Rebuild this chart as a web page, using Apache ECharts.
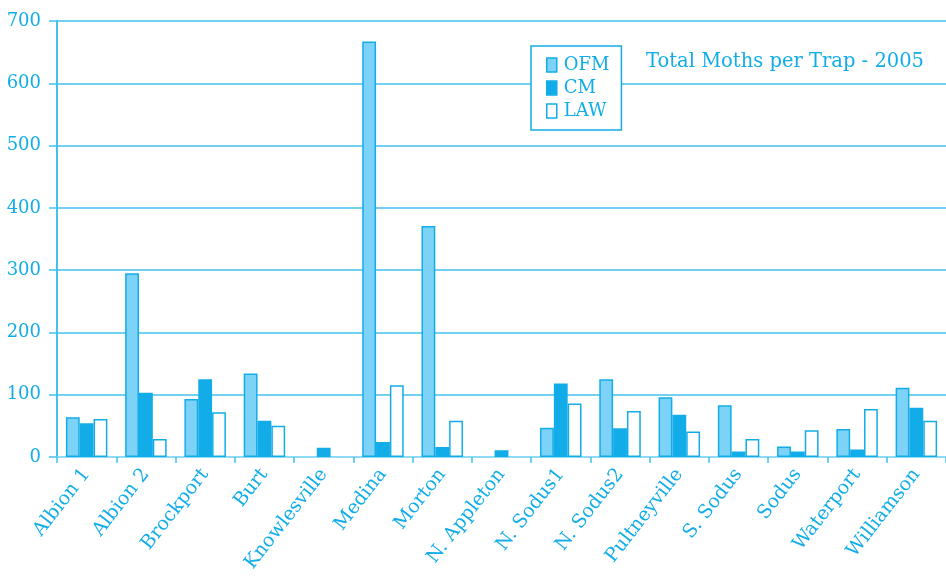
<!DOCTYPE html>
<html>
<head>
<meta charset="utf-8">
<script src="https://cdn.jsdelivr.net/npm/echarts@6/dist/echarts.min.js"></script>
<style>
  html, body { margin: 0; padding: 0; background: #ffffff; }
  #chart { width: 946px; height: 579px; }
</style>
</head>
<body>
<div id="chart"></div>
<script>
// Trap sites along the x axis
const sites = ['Albion 1', 'Albion 2', 'Brockport', 'Burt', 'Knowlesville', 'Medina', 'Morton',
  'N. Appleton', 'N. Sodus1', 'N. Sodus2', 'Pultneyville', 'S. Sodus', 'Sodus', 'Waterport', 'Williamson'];

// Total moths caught per trap, by species
const ofm = [64, 295, 93, 134, 0, 667, 371, 0, 47, 125, 96, 83, 17, 45, 111];
const cm  = [54, 103, 125, 58, 15, 24, 16, 11, 118, 46, 68, 9, 9, 12, 79];
const law = [61, 29, 72, 50, 0, 115, 58, 0, 86, 74, 41, 29, 43, 77, 58];

const yTicks = [0, 100, 200, 300, 400, 500, 600, 700];

const INK = '#12ade9';
const LINE = '#43c2ef';
const LIGHT = '#7dd3f7';
const FONT = 'DejaVu Serif';

// an empty trap gets no bar at all (no outline along the axis)
const bars = arr => arr.map(v => (v === 0 ? '-' : v));

const chart = echarts.init(document.getElementById('chart'), null, { renderer: 'canvas' });

const barBase = { type: 'bar', barGap: '0%', barCategoryGap: '30%' };

chart.setOption({
  animation: false,
  backgroundColor: '#ffffff',
  title: {
    text: 'Total Moths per Trap - 2005',
    left: 641, top: 47,
    textStyle: { fontFamily: FONT, fontSize: 19.5, fontWeight: 'normal', color: INK }
  },
  legend: {
    orient: 'vertical',
    left: 531, top: 46,
    padding: [10, 12, 10, 15],
    itemWidth: 10, itemHeight: 14, itemGap: 5,
    backgroundColor: '#ffffff',
    borderColor: INK, borderWidth: 1.5,
    textStyle: { fontFamily: FONT, fontSize: 18, color: INK, padding: [0, 0, 0, 2] },
    data: [
      { name: 'OFM', icon: 'rect', itemStyle: { color: LIGHT, borderColor: INK, borderWidth: 1.5 } },
      { name: 'CM', icon: 'rect', itemStyle: { color: INK, borderColor: INK, borderWidth: 1.5 } },
      { name: 'LAW', icon: 'rect', itemStyle: { color: '#ffffff', borderColor: INK, borderWidth: 1.5 } }
    ]
  },
  grid: { left: 57, top: 21, width: 896, height: 436, containLabel: false },
  xAxis: {
    type: 'category',
    data: sites,
    axisLine: { lineStyle: { color: '#8fdaf6', width: 2 } },
    axisTick: { show: true, alignWithLabel: false, length: 6, lineStyle: { color: LINE, width: 1.5 } },
    axisLabel: {
      interval: 0, rotate: 52, margin: 14,
      fontFamily: FONT, fontSize: 19, color: INK
    },
    splitLine: { show: false }
  },
  yAxis: {
    type: 'value',
    min: yTicks[0], max: yTicks[yTicks.length - 1], interval: 100,
    axisLine: { show: true, lineStyle: { color: LINE, width: 2 } },
    axisTick: { show: true, length: 8, lineStyle: { color: LINE, width: 1.5 } },
    axisLabel: {
      margin: 16, fontFamily: FONT, fontSize: 18, color: INK,
      formatter: v => yTicks.includes(v) ? String(v) : ''
    },
    splitLine: { show: true, lineStyle: { color: LINE, width: 1.5 } }
  },
  series: [
    Object.assign({}, barBase, {
      name: 'OFM', data: bars(ofm),
      itemStyle: { color: LIGHT, borderColor: INK, borderWidth: 1.5 }
    }),
    Object.assign({}, barBase, {
      name: 'CM', data: bars(cm),
      itemStyle: { color: INK, borderColor: INK, borderWidth: 1.5 }
    }),
    Object.assign({}, barBase, {
      name: 'LAW', data: bars(law),
      itemStyle: { color: '#ffffff', borderColor: INK, borderWidth: 1.5 }
    })
  ]
});
</script>
</body>
</html>
